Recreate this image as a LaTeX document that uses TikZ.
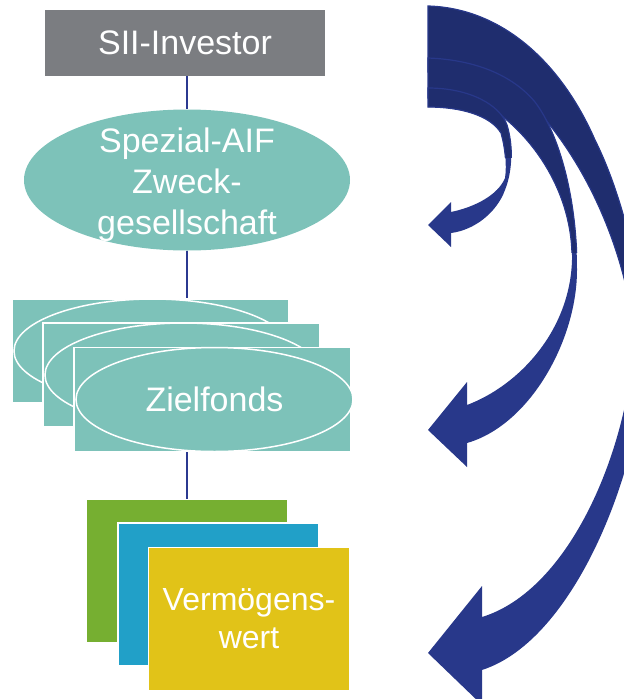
\documentclass[tikz,border=0pt]{standalone}
\usepackage{fontspec}
\setmainfont{Liberation Sans}
\usetikzlibrary{shapes.geometric,positioning}

\definecolor{sgray}{RGB}{123,125,129}
\definecolor{steal}{RGB}{125,194,185}
\definecolor{sgreen}{RGB}{118,175,49}
\definecolor{sblue}{RGB}{33,160,200}
\definecolor{syellow}{RGB}{225,195,24}
\definecolor{linknavy}{RGB}{43,57,144}
\definecolor{arrowlight}{RGB}{40,56,138}
\definecolor{arrowdark}{RGB}{31,45,110}

\newcommand\labelfont{\fontsize{34}{41}\selectfont}
\newcommand\assetfont{\fontsize{32}{38}\selectfont}

\tikzset{
  box/.style={rectangle, fill=#1, text=white, inner sep=0pt, font=\labelfont},
  oval/.style={ellipse, fill=#1, inner sep=0pt},
  inscr/.style={text=white, align=center, inner sep=0pt, font=\labelfont},
  plate/.style={rectangle, fill=steal, draw=white, line width=1.5pt,
    minimum width=277pt, minimum height=104pt, inner sep=0pt},
  fundoval/.style={ellipse, fill=steal, draw=white, line width=1.5pt,
    minimum width=277pt, minimum height=104pt, inner sep=0pt,
    text=white, font=\labelfont},
  tile/.style={rectangle, fill=#1, draw=white, line width=1.5pt,
    minimum width=201pt, minimum height=143pt, inner sep=0pt,
    text=white, font=\assetfont, align=center},
  link/.style={draw=linknavy, line width=2.5pt},
  arrowfront/.style={fill=arrowlight},
  arrowback/.style={fill=arrowdark, draw=arrowlight, line width=1.2pt}
}

% outlines of the three curved arrows
\newcommand\arrowsmall{(428,88) .. controls (470,88) and (500,105) .. (507,125)
  .. controls (513,145) and (513,170) .. (505,190)
  .. controls (497,212) and (475,230) .. (451,233)
  -- (451,247) -- (428,225) -- (451,202) -- (451,212)
  .. controls (475,207) and (498,195) .. (505,178)
  .. controls (507,165) and (505,147) .. (501,133)
  .. controls (490,115) and (460,107) .. (428,107) -- cycle}
\newcommand\arrowmid{(428,58) .. controls (480,60) and (515,78) .. (535,102)
  .. controls (560,135) and (577,200) .. (577,270)
  .. controls (577,340) and (530,425) .. (467,443)
  -- (467,467) -- (428,430) -- (467,382) -- (467,405)
  .. controls (520,385) and (570,330) .. (572,260)
  .. controls (573,195) and (535,135) .. (485,104)
  .. controls (470,98) and (450,98) .. (428,98) -- cycle}
\newcommand\arrowbig{(428,6) .. controls (500,8) and (560,60) .. (595,140)
  .. controls (625,200) and (645,290) .. (645,360)
  .. controls (640,470) and (575,640) .. (482,670)
  -- (482,705) -- (428,653) -- (482,586) -- (482,617)
  .. controls (570,590) and (628,450) .. (634,340)
  .. controls (632,290) and (605,180) .. (528,100)
  .. controls (500,80) and (470,72) .. (428,72) -- cycle}

\begin{document}
\begin{tikzpicture}[x=1pt,y=-1pt]
\useasboundingbox (0,0) rectangle (624,699);

\node[box=sgray, minimum width=280pt, minimum height=66pt] (inv) at (185,43) {SII-Investor};
\node[oval=steal, minimum width=326pt, minimum height=141pt] (spv) at (187,180) {};
\node[inscr] (spvtext) at (187,185) {Spezial-AIF\\Zweck-\\gesellschaft};

% stack of target funds
\node[plate] (zf1) at (150.5,351) {};
\node[fundoval] (ze1) at (152.5,351) {};
\node[plate] (zf2) at (181.5,375) {};
\node[fundoval] (ze2) at (183.5,375) {};
\node[plate] (zf3) at (212.5,399.5) {};
\node[fundoval] (ze3) at (214.5,399.5) {Zielfonds};

% stack of assets
\node[tile=sgreen] (ast1) at (187,571) {};
\node[tile=sblue] (ast2) at (218.5,594.5) {};
\node[tile=syellow] (ast3) at (249,619) {Vermögens-\\wert};

\draw[link] (inv.south -| spv.north) -- (spv.north);
\draw[link] (spv.south) -- (spv.south |- zf1.north);
\draw[link] (ast1.north) -- (ast1.north |- zf3.south);

% curved arrows on the right
\begin{scope}
  \clip (0,0) rectangle (624,699);
  \fill[arrowfront] \arrowbig;
  \begin{scope}
    \clip (400,0) rectangle (650,340);
    \filldraw[arrowback] \arrowbig;
  \end{scope}
  \fill[arrowfront] \arrowmid;
  \begin{scope}
    \clip (400,0) rectangle (650,252);
    \filldraw[arrowback] \arrowmid;
  \end{scope}
  \fill[arrowfront] \arrowsmall;
  \begin{scope}
    \clip (400,0) rectangle (650,157);
    \filldraw[arrowback] \arrowsmall;
  \end{scope}
\end{scope}
\end{tikzpicture}
\end{document}
